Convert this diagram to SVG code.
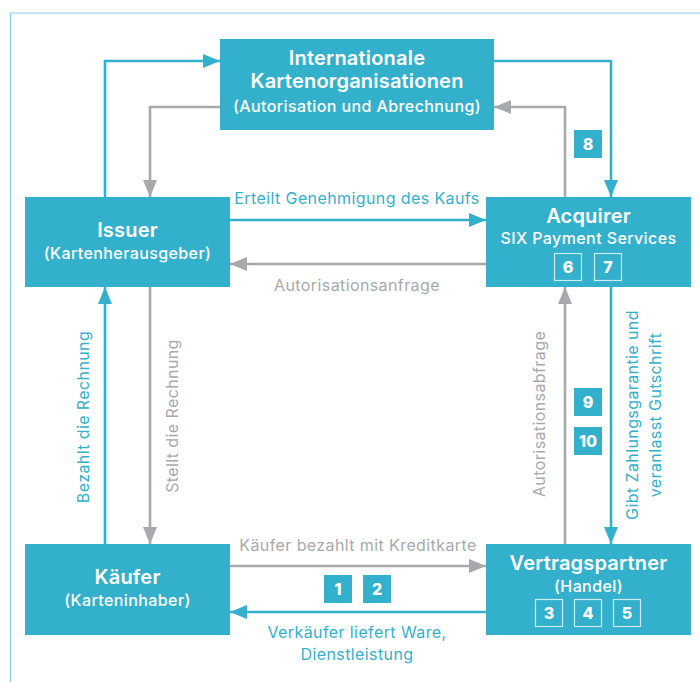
<svg xmlns="http://www.w3.org/2000/svg" width="700" height="682" viewBox="0 0 700 682">
<defs>
<style>
.node{fill:#33b1cc}
.t{font-family:Inter,"Liberation Sans",sans-serif;fill:#fff;text-anchor:middle}
.ttl{font-size:20px;font-weight:600;letter-spacing:0.2px}
.sub{font-size:16px;font-weight:500;letter-spacing:0.4px}
.num{font-family:Inter,"Liberation Sans",sans-serif;font-size:16px;font-weight:800;fill:#fff;text-anchor:middle}
.ob{fill:none;stroke:#fff;stroke-opacity:0.75;stroke-width:1.2}
.bd{fill:#33b1cc}
.c{fill:none;stroke:#33b1cc;stroke-width:2.6}
.g{fill:none;stroke:#a8a9ad;stroke-width:2.6}
.lc{font-family:Inter,"Liberation Sans",sans-serif;font-size:16px;letter-spacing:0.4px;fill:#33b1cc;text-anchor:middle}
.lg{font-family:Inter,"Liberation Sans",sans-serif;font-size:16px;letter-spacing:0.4px;fill:#a8a9ad;text-anchor:middle}
</style>
<marker id="ac" viewBox="0 0 17 14" refX="17" refY="7" markerWidth="17" markerHeight="14" markerUnits="userSpaceOnUse" orient="auto"><path d="M0,0 L17,7 L0,14 z" fill="#33b1cc"/></marker>
<marker id="ag" viewBox="0 0 17 14" refX="17" refY="7" markerWidth="17" markerHeight="14" markerUnits="userSpaceOnUse" orient="auto"><path d="M0,0 L17,7 L0,14 z" fill="#a8a9ad"/></marker>
</defs>
<rect width="700" height="682" fill="#fff"/>
<path d="M10.5,682 V13 H700" fill="none" stroke="#7fd0e2" stroke-width="1"/>

<g id="connectors">
<path class="c" d="M105,197 V61 H220" marker-end="url(#ac)"/>
<path class="g" d="M220,107 H150 V197" marker-end="url(#ag)"/>
<path class="c" d="M494,61 H611 V197" marker-end="url(#ac)"/>
<path class="g" d="M565,197 V107 H494" marker-end="url(#ag)"/>
<path class="c" d="M230,220 H486" marker-end="url(#ac)"/>
<path class="g" d="M486,264 H230" marker-end="url(#ag)"/>
<path class="c" d="M105,544 V287" marker-end="url(#ac)"/>
<path class="g" d="M150,287 V544" marker-end="url(#ag)"/>
<path class="g" d="M230,566 H486" marker-end="url(#ag)"/>
<path class="c" d="M486,612 H230" marker-end="url(#ac)"/>
<path class="g" d="M565,544 V287" marker-end="url(#ag)"/>
<path class="c" d="M611,287 V544" marker-end="url(#ac)"/>
<text class="lc" x="357" y="204">Erteilt Genehmigung des Kaufs</text>
<text class="lg" x="357" y="291">Autorisationsanfrage</text>
<text class="lg" x="358" y="551">Käufer bezahlt mit Kreditkarte</text>
<text class="lc" x="357" y="638">Verkäufer liefert Ware,</text>
<text class="lc" x="357" y="660">Dienstleistung</text>
<text class="lc" transform="translate(89,417) rotate(-90)">Bezahlt die Rechnung</text>
<text class="lg" transform="translate(178,416) rotate(-90)">Stellt die Rechnung</text>
<text class="lg" transform="translate(545,414) rotate(-90)">Autorisationsabfrage</text>
<text class="lc" transform="translate(638,415) rotate(-90)">Gibt Zahlungsgarantie und</text>
<text class="lc" transform="translate(661,415) rotate(-90)">veranlasst Gutschrift</text>
</g>

<g id="node-international">
<rect class="node" x="220" y="39" width="274" height="91"/>
<text class="t ttl" x="357" y="65">Internationale</text>
<text class="t ttl" x="357" y="88">Kartenorganisationen</text>
<text class="t sub" x="357" y="112">(Autorisation und Abrechnung)</text>
</g>

<g id="node-issuer">
<rect class="node" x="25" y="197" width="205" height="90"/>
<text class="t ttl" x="127.5" y="237">Issuer</text>
<text class="t sub" x="127.5" y="259">(Kartenherausgeber)</text>
</g>

<g id="node-acquirer">
<rect class="node" x="486" y="197" width="205" height="90"/>
<text class="t ttl" x="588.5" y="223">Acquirer</text>
<text class="t sub" x="588.5" y="244" font-weight="600">SIX Payment Services</text>
<rect class="ob" x="554.5" y="253.5" width="27" height="27"/>
<text class="num" x="568" y="273">6</text>
<rect class="ob" x="594.5" y="253.5" width="27" height="27"/>
<text class="num" x="608" y="273">7</text>
</g>

<g id="node-kaeufer">
<rect class="node" x="25" y="544" width="205" height="91"/>
<text class="t ttl" x="127.5" y="584">Käufer</text>
<text class="t sub" x="127.5" y="606">(Karteninhaber)</text>
</g>

<g id="node-vertragspartner">
<rect class="node" x="486" y="544" width="205" height="91"/>
<text class="t ttl" x="588.5" y="570">Vertragspartner</text>
<text class="t sub" x="588.5" y="592">(Handel)</text>
<rect class="ob" x="535.5" y="599.5" width="27" height="27"/>
<text class="num" x="549" y="619">3</text>
<rect class="ob" x="574.5" y="599.5" width="27" height="27"/>
<text class="num" x="588" y="619">4</text>
<rect class="ob" x="613.5" y="599.5" width="27" height="27"/>
<text class="num" x="627" y="619">5</text>
</g>

<g id="badge-1"><rect class="bd" x="324" y="575" width="28" height="28"/><text class="num" x="338" y="595">1</text></g>
<g id="badge-2"><rect class="bd" x="363" y="575" width="28" height="28"/><text class="num" x="377" y="595">2</text></g>
<g id="badge-8"><rect class="bd" x="574" y="130" width="28" height="28"/><text class="num" x="588" y="150">8</text></g>
<g id="badge-9"><rect class="bd" x="574" y="388" width="28" height="28"/><text class="num" x="588" y="408">9</text></g>
<g id="badge-10"><rect class="bd" x="574" y="427" width="28" height="28"/><text class="num" x="588" y="447">10</text></g>
</svg>
